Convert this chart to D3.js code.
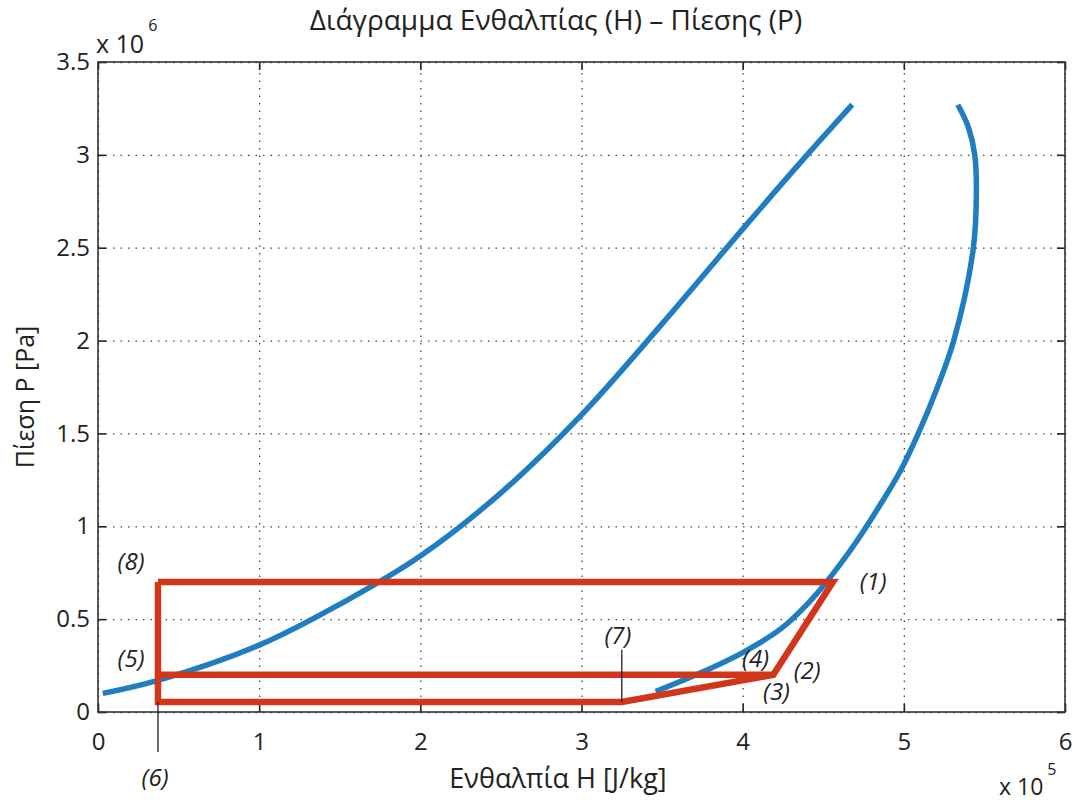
<!DOCTYPE html>
<html>
<head>
<meta charset="utf-8">
<script src="https://cdn.jsdelivr.net/npm/d3@7"></script>
<style>
  body { margin: 0; background: #fff; }
  svg { font-family: "Open Sans", sans-serif; }
</style>
</head>
<body>
<svg width="1076" height="803"></svg>
<script>
// saturated liquid line (H in 1e5 J/kg, P in 1e6 Pa)
const liqH = [0.03, 0.372, 1.0, 1.5, 2.0, 2.5, 3.0, 3.5, 4.0, 4.37, 4.68];
const liqP = [0.10, 0.17, 0.36, 0.58, 0.84, 1.18, 1.60, 2.09, 2.60, 2.97, 3.27];
// saturated vapour line
const vapH = [3.46, 3.75, 4.0, 4.24, 4.40, 4.52, 4.70, 4.86, 4.98, 5.09, 5.20, 5.31, 5.43, 5.45, 5.44, 5.40, 5.335];
const vapP = [0.11, 0.215, 0.32, 0.45, 0.58, 0.70, 0.91, 1.125, 1.30, 1.50, 1.73, 2.0, 2.49, 2.79, 3.0, 3.15, 3.27];

// cycle: 8 -> 1 -> 2 -> 5   and   8 -> 6 -> 7 -> 2
const cycleA = [[0.372, 0.70], [4.56, 0.70], [4.19, 0.20], [0.372, 0.20]];
const cycleB = [[0.372, 0.70], [0.372, 0.054], [3.25, 0.054], [4.19, 0.20]];

const pointLabels = ["(1)", "(2)", "(3)", "(4)", "(5)", "(6)", "(7)", "(8)"];
const pointLabelPos = [[4.81, 0.69], [4.40, 0.21], [4.21, 0.10], [4.08, 0.275], [0.205, 0.275], [0.354, -0.366], [3.226, 0.40], [0.205, 0.80]];

const xTicks = [0, 1, 2, 3, 4, 5, 6];
const yTicks = [0, 0.5, 1, 1.5, 2, 2.5, 3, 3.5];

const svg = d3.select("svg");
const L = 98, R = 1065, T = 62, B = 712;
const x = d3.scaleLinear().domain([0, 6]).range([L, R]);
const y = d3.scaleLinear().domain([0, 3.5]).range([B, T]);

// grid
svg.append("g").attr("transform", `translate(0,${B})`)
  .call(d3.axisBottom(x).tickValues(xTicks).tickSize(-(B - T)).tickFormat(""))
  .call(g => g.select(".domain").remove())
  .selectAll("line").attr("stroke", "#444").attr("stroke-width", 1.3).attr("stroke-dasharray", "1.5,6");
svg.append("g").attr("transform", `translate(${L},0)`)
  .call(d3.axisLeft(y).tickValues(yTicks).tickSize(-(R - L)).tickFormat(""))
  .call(g => g.select(".domain").remove())
  .selectAll("line").attr("stroke", "#444").attr("stroke-width", 1.3).attr("stroke-dasharray", "1.5,6");

// axes with inward ticks
const fmt = d3.format("");
const xb = svg.append("g").attr("transform", `translate(0,${B})`)
  .call(d3.axisBottom(x).tickValues(xTicks).tickSizeInner(-8).tickSizeOuter(0).tickPadding(21).tickFormat(fmt));
const xt = svg.append("g").attr("transform", `translate(0,${T})`)
  .call(d3.axisTop(x).tickValues(xTicks).tickSizeInner(-8).tickSizeOuter(0).tickFormat(""));
const yl = svg.append("g").attr("transform", `translate(${L},0)`)
  .call(d3.axisLeft(y).tickValues(yTicks).tickSizeInner(-8).tickSizeOuter(0).tickPadding(8).tickFormat(fmt));
const yr = svg.append("g").attr("transform", `translate(${R},0)`)
  .call(d3.axisRight(y).tickValues(yTicks).tickSizeInner(-8).tickSizeOuter(0).tickFormat(""));
[xb, xt, yl, yr].forEach(g => {
  g.select(".domain").remove();
  g.selectAll("line").attr("stroke", "#222").attr("stroke-width", 1.6);
  g.selectAll("text").attr("font-family", "Open Sans, sans-serif").attr("font-size", 24).attr("fill", "#222");
});

svg.append("rect").attr("x", L).attr("y", T).attr("width", R - L).attr("height", B - T)
  .attr("fill", "none").attr("stroke", "#333").attr("stroke-width", 1.6);

// saturation curves
const curve = d3.line().x(d => x(d[0])).y(d => y(d[1])).curve(d3.curveCatmullRom.alpha(0.5));
svg.append("path").datum(d3.zip(liqH, liqP)).attr("d", curve)
  .attr("fill", "none").attr("stroke", "#1f7dc0").attr("stroke-width", 5.5);
svg.append("path").datum(d3.zip(vapH, vapP)).attr("d", curve)
  .attr("fill", "none").attr("stroke", "#1f7dc0").attr("stroke-width", 5.5);

// cycle
const poly = d3.line().x(d => x(d[0])).y(d => y(d[1]));
[cycleA, cycleB].forEach(c => {
  svg.append("path").datum(c).attr("d", poly)
    .attr("fill", "none").attr("stroke", "#d2361a").attr("stroke-width", 6.5).attr("stroke-linejoin", "miter");
});

// leader lines for (6) and (7)
svg.append("line").attr("x1", x(0.372)).attr("x2", x(0.372)).attr("y1", y(0.054)).attr("y2", y(-0.215))
  .attr("stroke", "#222").attr("stroke-width", 1.3);
svg.append("line").attr("x1", x(3.25)).attr("x2", x(3.25)).attr("y1", y(0.054)).attr("y2", y(0.335))
  .attr("stroke", "#222").attr("stroke-width", 1.3);

// point labels
svg.append("g").selectAll("text").data(pointLabels).join("text")
  .attr("x", (d, i) => x(pointLabelPos[i][0]))
  .attr("y", (d, i) => y(pointLabelPos[i][1]))
  .attr("text-anchor", "middle").attr("dominant-baseline", "middle")
  .attr("font-style", "italic").attr("font-size", 24).attr("fill", "#222")
  .text(d => d);

// title and axis labels
svg.append("text").attr("x", 556).attr("y", 30).attr("text-anchor", "middle")
  .attr("font-size", 28).attr("fill", "#222").text("Διάγραμμα Ενθαλπίας (Η) – Πίεσης (P)");
svg.append("text").attr("x", 558).attr("y", 788).attr("text-anchor", "middle")
  .attr("font-size", 27).attr("fill", "#222").text("Ενθαλπία Η [J/kg]");
svg.append("text").attr("transform", "translate(34,397) rotate(-90)").attr("text-anchor", "middle")
  .attr("font-size", 25).attr("fill", "#222").text("Πίεση P [Pa]");

// exponent labels
const e6 = svg.append("text").attr("x", 96).attr("y", 53).attr("font-size", 25).attr("fill", "#222");
e6.append("tspan").text("x 10");
e6.append("tspan").attr("dx", 4).attr("dy", -22).attr("font-size", 16).text("6");
const e5 = svg.append("text").attr("x", 999).attr("y", 795).attr("font-size", 23).attr("fill", "#222");
e5.append("tspan").text("x 10");
e5.append("tspan").attr("dx", 4).attr("dy", -20).attr("font-size", 16).text("5");
</script>
</body>
</html>
